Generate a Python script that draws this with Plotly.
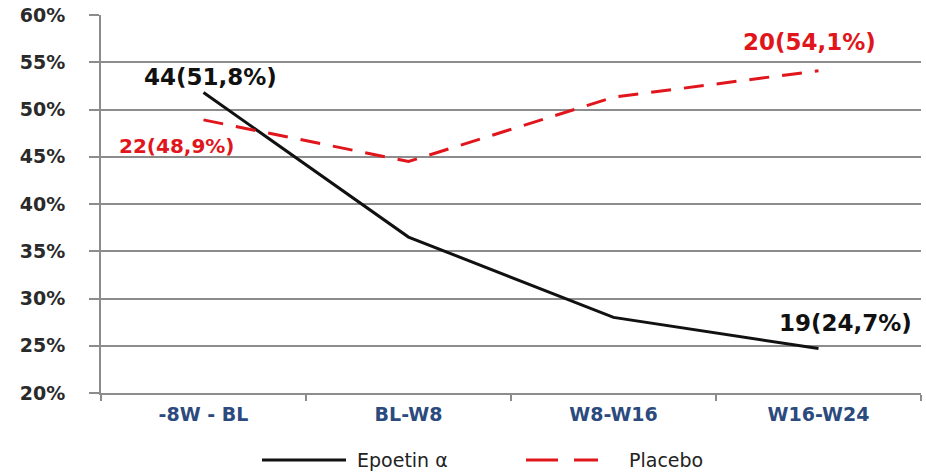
import plotly.graph_objects as go

# Periods and percentage of patients per arm
periods = ["-8W - BL", "BL-W8", "W8-W16", "W16-W24"]
epoetin_pct = [51.8, 36.5, 28.0, 24.7]
placebo_pct = [48.9, 44.5, 51.3, 54.1]

# Counts shown next to the first and last points
epoetin_n = {0: 44, 3: 19}
placebo_n = {0: 22, 3: 20}

y_ticks = [20, 25, 30, 35, 40, 45, 50, 55, 60]
y_tick_text = [f"{v}%" for v in y_ticks]

BLACK = "#111111"
RED = "#E0161C"
GRID = "#8c8c8c"
FONT = "DejaVu Sans"

W, H = 926, 472
ML, MR, MT, MB = 101, 5, 15, 79
PW, PH = W - ML - MR, H - MT - MB


def px_x(x):
    return (x - ML) / PW


def px_y(y):
    return (H - MB - y) / PH


fig = go.Figure()
fig.add_trace(go.Scatter(
    x=periods, y=epoetin_pct, mode="lines", name="Epoetin α",
    line=dict(color=BLACK, width=3), showlegend=False,
))
fig.add_trace(go.Scatter(
    x=periods, y=placebo_pct, mode="lines", name="Placebo",
    line=dict(color=RED, width=3, dash="20px,13px"), showlegend=False,
))


def label(n, pct):
    return f"{n}({pct:.1f}%)".replace(".", ",")


annotations = []
# value labels: (series, counts, index, color, size, xshift, yshift)
specs = [
    (epoetin_pct, epoetin_n, 0, BLACK, 23, 7, 15),
    (epoetin_pct, epoetin_n, 3, BLACK, 23, 27, 26),
    (placebo_pct, placebo_n, 0, RED, 20, -27, -26),
    (placebo_pct, placebo_n, 3, RED, 23, -9, 29),
]
for vals, counts, i, color, size, xs, ys in specs:
    annotations.append(dict(
        x=periods[i], y=vals[i], xref="x", yref="y",
        text=f"<b>{label(counts[i], vals[i])}</b>", showarrow=False,
        font=dict(family=FONT, size=size, color=color),
        xshift=xs, yshift=ys,
    ))

# legend drawn below the axis
LEG_Y = 460
shapes = [
    dict(type="line", xref="paper", yref="paper",
         x0=px_x(262), x1=px_x(346), y0=px_y(LEG_Y), y1=px_y(LEG_Y),
         line=dict(color=BLACK, width=3)),
    dict(type="line", xref="paper", yref="paper",
         x0=px_x(526), x1=px_x(598), y0=px_y(LEG_Y), y1=px_y(LEG_Y),
         line=dict(color=RED, width=3, dash="32px,16px")),
]
annotations += [
    dict(x=px_x(355), y=px_y(LEG_Y), xref="paper", yref="paper",
         text="Epoetin α", showarrow=False, xanchor="left", yanchor="middle",
         font=dict(family=FONT, size=19, color="#222222")),
    dict(x=px_x(627), y=px_y(LEG_Y), xref="paper", yref="paper",
         text="Placebo", showarrow=False, xanchor="left", yanchor="middle",
         font=dict(family=FONT, size=19, color="#222222")),
]

fig.update_layout(
    width=W, height=H,
    margin=dict(l=ML, r=MR, t=MT, b=MB),
    paper_bgcolor="white", plot_bgcolor="white",
    showlegend=False,
    shapes=shapes,
    annotations=annotations,
    xaxis=dict(
        type="category", range=[-0.5, 3.5],
        showgrid=False, showline=True, linecolor=GRID, linewidth=2,
        ticks="outside", tickson="boundaries", ticklen=6, tickwidth=1.5,
        tickcolor=GRID,
        tickfont=dict(family=FONT, size=19, color="#2B4A7E", weight="bold"),
        ticklabelstandoff=3,
    ),
    yaxis=dict(
        range=[20, 60], tickvals=y_ticks, ticktext=y_tick_text,
        showgrid=True, gridcolor=GRID, gridwidth=2,
        showline=True, linecolor=GRID, linewidth=2,
        ticks="outside", ticklen=10, tickwidth=2, tickcolor=GRID,
        tickfont=dict(family=FONT, size=19, color="#2a2a2a", weight="bold"),
        ticklabelstandoff=20, zeroline=False,
    ),
)

fig.write_html("out.html")
